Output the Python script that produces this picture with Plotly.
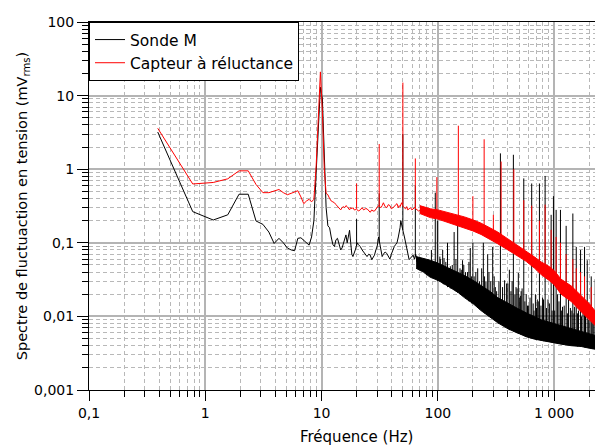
import plotly.graph_objects as go

# ---------------- data ----------------
# Sonde M (black): low-frequency curve
sonde_f = [0.39, 0.78, 1.17, 1.56, 1.95, 2.34, 2.73, 3.13, 3.52, 3.91, 4.30, 4.69, 5.08, 5.47,
           5.86, 6.25, 6.64, 7.03, 7.42, 7.81, 8.20, 8.59, 8.98, 9.38, 9.77, 10.16, 10.55,
           10.94, 11.33, 11.72, 12.1, 12.5, 12.9, 13.3, 13.7, 14.1, 14.6, 15.0, 15.4, 15.8,
           16.2, 16.6, 17.0, 17.4, 17.8, 18.2, 18.6, 19.1, 19.5, 19.9, 20.3, 20.7, 21.5,
           22.3, 23.0, 23.8, 24.6, 25.4, 26.2, 27.0, 27.7, 28.5, 29.3, 30.1, 30.9, 31.6,
           32.4, 33.2, 34.0, 35.2, 36.3, 37.5, 38.7, 39.8, 41.0, 42.2, 43.4, 44.5, 45.7,
           46.5, 47.3, 48.0, 48.8, 50.4, 51.6, 52.7, 53.9, 55.1, 56.6, 58.2, 59.8, 61.3,
           62.9, 64.5, 66.0]
sonde_v = [3.2, 0.265, 0.204, 0.24, 0.457, 0.457, 0.198, 0.178, 0.14, 0.098, 0.115, 0.10,
           0.085, 0.080, 0.078, 0.115, 0.117, 0.108, 0.098, 0.093, 0.12, 0.20, 0.9, 4.0,
           13.0, 9.0, 1.2, 0.30, 0.17, 0.16, 0.12, 0.095, 0.089, 0.11, 0.115, 0.10, 0.08,
           0.085, 0.10, 0.118, 0.128, 0.10, 0.12, 0.148, 0.10, 0.07, 0.065, 0.072, 0.08,
           0.09, 0.10, 0.095, 0.089, 0.08, 0.075, 0.07, 0.065, 0.07, 0.068, 0.059, 0.063,
           0.068, 0.08, 0.09, 0.12, 0.10, 0.08, 0.065, 0.07, 0.075, 0.072, 0.065, 0.06,
           0.07, 0.08, 0.089, 0.095, 0.10, 0.12, 0.136, 0.16, 0.2, 0.17, 0.14, 0.12, 0.10,
           0.08, 0.07, 0.059, 0.062, 0.065, 0.068, 0.06, 0.07, 0.055]

# Sonde M: dense noise band (lower / upper envelope)
sonde_band_f = [65, 75, 86, 100, 121, 150, 169, 200, 235, 280, 327, 400, 486, 574, 680, 773,
                900, 1000, 1148, 1400, 1710, 2000, 2450]
sonde_band_lo = [0.045, 0.04, 0.034, 0.031, 0.026, 0.021, 0.018, 0.015, 0.012, 0.0098,
                 0.0082, 0.0068, 0.0059, 0.0053, 0.0049, 0.0047, 0.0045, 0.0044, 0.0042,
                 0.0040, 0.0039, 0.0037, 0.0035]
sonde_band_hi = [0.065, 0.062, 0.058, 0.053, 0.046, 0.04, 0.036, 0.031, 0.026, 0.022, 0.018,
                 0.015, 0.0128, 0.0112, 0.0098, 0.009, 0.0084, 0.008, 0.0075, 0.0069,
                 0.0063, 0.0058, 0.0053]

# Sonde M: spikes (frequency, top, base)
sonde_spk_f = [20.0, 31.3, 50.0, 64.0, 88, 95, 99, 104, 110, 113, 121, 128, 138, 148, 159,
               163, 173, 190, 200, 205, 220, 246, 259, 268, 275, 296, 312, 345, 375, 390,
               412, 446, 470, 492, 515, 530, 548, 590, 641, 671, 716, 747, 795, 836, 885,
               942, 986, 1010, 1040, 1070, 1133, 1180, 1268, 1330, 1448, 1500, 1549, 1590,
               1687, 1770, 1825, 1925, 2030, 2083, 2160, 2255, 2330, 2455]
sonde_spk_top = [0.21, 0.47, 3.0, 0.6, 0.08, 0.48, 0.2, 0.065, 0.08, 0.062, 0.1, 0.048,
                 0.14, 0.19, 0.043, 0.058, 0.04, 0.085, 0.1, 0.035, 0.045, 0.1, 0.03, 0.07,
                 0.04, 0.088, 0.025, 1.64, 0.031, 0.028, 0.043, 1.57, 0.025, 0.039, 0.019,
                 0.024, 0.75, 0.014, 0.64, 0.012, 0.017, 0.64, 0.018, 0.81, 0.017, 0.24,
                 0.43, 0.012, 0.28, 0.02, 0.28, 0.0135, 0.17, 0.0185, 0.25, 0.0135, 0.088,
                 0.011, 0.08, 0.011, 0.088, 0.058, 0.009, 0.035, 0.008, 0.032, 0.009, 0.029]
sonde_spk_base = [0.09, 0.1, 0.15, 0.065, 0.035, 0.032, 0.03, 0.03, 0.028, 0.027, 0.025,
                  0.024, 0.023, 0.021, 0.02, 0.019, 0.018, 0.016, 0.015, 0.015, 0.013,
                  0.012, 0.011, 0.011, 0.01, 0.0095, 0.009, 0.0085, 0.0075, 0.0072, 0.0065,
                  0.0062, 0.006, 0.0058, 0.0057, 0.0056, 0.0055, 0.0053, 0.0051, 0.005,
                  0.0049, 0.0048, 0.0047, 0.0046, 0.0045, 0.0045, 0.0044, 0.0044, 0.0044,
                  0.0043, 0.0043, 0.0042, 0.0041, 0.0041, 0.004, 0.004, 0.004, 0.0039,
                  0.0039, 0.0039, 0.0038, 0.0038, 0.0037, 0.0037, 0.0036, 0.0036, 0.0036,
                  0.0035]

# Sonde M: short "grass" peaks above the noise band (estimated)
sonde_grass_f = [105, 117, 133, 143, 155, 167, 180, 185, 195, 212, 228, 238, 252, 285, 305,
                 320, 335, 360, 400, 425, 435, 460, 480, 505, 520, 560, 575, 600, 620, 660,
                 690, 705, 730, 770, 810, 860, 910, 960, 1100, 1160, 1220, 1300, 1380, 1420,
                 1480, 1620, 1720, 1860, 1980, 2120, 2200, 2400]
sonde_grass_top = [0.06, 0.055, 0.05, 0.06, 0.045, 0.05, 0.04, 0.055, 0.035, 0.04, 0.03,
                   0.045, 0.035, 0.03, 0.035, 0.022, 0.03, 0.025, 0.028, 0.022, 0.03, 0.02,
                   0.024, 0.018, 0.022, 0.016, 0.02, 0.014, 0.018, 0.015, 0.02, 0.013,
                   0.016, 0.014, 0.017, 0.013, 0.015, 0.012, 0.016, 0.012, 0.014, 0.011,
                   0.013, 0.012, 0.011, 0.012, 0.01, 0.011, 0.009, 0.01, 0.009, 0.008]
sonde_grass_base = [0.03, 0.027, 0.024, 0.022, 0.02, 0.019, 0.017, 0.016, 0.015, 0.014,
                    0.0125, 0.012, 0.011, 0.0098, 0.009, 0.0085, 0.008, 0.0075, 0.0068,
                    0.0065, 0.0064, 0.0061, 0.0059, 0.0058, 0.0057, 0.0054, 0.0053, 0.0052,
                    0.0051, 0.005, 0.0049, 0.0049, 0.0048, 0.0047, 0.0046, 0.0046, 0.0045,
                    0.0044, 0.0043, 0.0042, 0.0042, 0.0041, 0.0041, 0.004, 0.004, 0.004,
                    0.0039, 0.0038, 0.0038, 0.0037, 0.0036, 0.0035]

# Capteur à réluctance (red): low-frequency curve
capteur_f = [0.39, 0.78, 1.17, 1.56, 1.95, 2.34, 2.73, 3.13, 3.52, 3.91, 4.30, 4.69, 5.08,
             5.47, 5.86, 6.25, 6.64, 7.03, 7.42, 7.81, 8.20, 8.59, 8.98, 9.38, 9.77, 10.16,
             10.55, 10.94, 11.33, 11.72, 12.1, 12.5, 12.9, 13.3, 13.7, 14.1, 14.6, 15.0,
             15.4, 15.8, 16.2, 16.6, 17.0, 17.4, 17.8, 18.2, 18.6, 19.1, 19.5, 19.9, 20.3,
             20.7, 21.5, 22.3, 23.0, 23.8, 24.6, 25.4, 26.2, 27.0, 27.7, 28.5, 29.3, 30.1,
             30.9, 31.6, 32.4, 33.2, 34.0, 35.2, 36.3, 37.5, 38.7, 39.8, 41.0, 42.2, 43.4,
             44.5, 45.7, 46.5, 47.3, 48.0, 48.8, 50.4, 51.6, 52.7, 53.9, 55.1, 56.6, 58.2,
             59.8, 61.3, 62.9, 64.5, 66.0, 68.4, 70.3, 72.3, 75.0, 78.1, 82.0, 86.0]
capteur_v = [3.6, 0.63, 0.66, 0.74, 0.95, 0.95, 0.62, 0.48, 0.48, 0.50, 0.53, 0.48, 0.45,
             0.47, 0.49, 0.51, 0.42, 0.34, 0.37, 0.39, 0.36, 0.39, 1.1, 7.0, 21.0, 6.0, 1.0,
             0.47, 0.45, 0.40, 0.37, 0.36, 0.35, 0.33, 0.31, 0.29, 0.28, 0.30, 0.31, 0.30,
             0.32, 0.31, 0.29, 0.28, 0.30, 0.29, 0.30, 0.28, 0.28, 0.29, 0.28, 0.27, 0.28,
             0.30, 0.28, 0.29, 0.29, 0.27, 0.26, 0.28, 0.27, 0.27, 0.29, 0.30, 0.32, 0.31,
             0.30, 0.32, 0.35, 0.31, 0.30, 0.33, 0.32, 0.29, 0.30, 0.31, 0.33, 0.34, 0.30,
             0.32, 0.31, 0.33, 0.35, 0.31, 0.30, 0.29, 0.31, 0.28, 0.29, 0.30, 0.28, 0.29,
             0.30, 0.29, 0.28, 0.27, 0.28, 0.27, 0.29, 0.28, 0.27, 0.26]

# Capteur: dense noise band
capteur_band_f = [70, 86, 100, 121, 150, 169, 200, 235, 280, 327, 400, 486, 574, 680, 773,
                  900, 1000, 1148, 1400, 1710, 2000, 2450]
capteur_band_lo = [0.25, 0.22, 0.21, 0.19, 0.17, 0.16, 0.145, 0.13, 0.112, 0.097, 0.08,
                   0.066, 0.056, 0.045, 0.037, 0.031, 0.027, 0.020, 0.016, 0.0115, 0.009,
                   0.0066]
capteur_band_hi = [0.32, 0.29, 0.28, 0.26, 0.24, 0.225, 0.205, 0.185, 0.16, 0.14, 0.113,
                   0.092, 0.078, 0.064, 0.055, 0.048, 0.042, 0.032, 0.026, 0.019, 0.015,
                   0.010]

# Capteur: spikes
capteur_spk_f = [20.0, 31.3, 50.0, 64.0, 98, 150, 200, 250, 300, 350, 450, 548, 641, 747,
                 836, 942, 1040, 1133, 1268, 1448, 1549, 1687, 1825, 2083]
capteur_spk_top = [0.64, 2.2, 15.0, 1.4, 0.78, 3.9, 0.43, 2.55, 0.24, 1.27, 1.0, 0.38, 0.32,
                   0.2, 0.33, 0.15, 0.12, 0.1, 0.07, 0.06, 0.045, 0.04, 0.035, 0.025]
capteur_spk_base = [0.29, 0.31, 0.33, 0.29, 0.26, 0.22, 0.18, 0.15, 0.13, 0.11, 0.09,
                    0.075, 0.065, 0.055, 0.048, 0.042, 0.037, 0.032, 0.027, 0.022, 0.02,
                    0.018, 0.016, 0.013]

x_tickvals = [0.1, 1, 10, 100, 1000]
x_ticktext = ["0,1", "1", "10", "100", "1 000"]
y_tickvals = [0.001, 0.01, 0.1, 1, 10, 100]
y_ticktext = ["0,001", "0,01", "0,1", "1", "10", "100"]


def segments(fs, tops, bases):
    xs, ys = [], []
    for f, t, b in zip(fs, tops, bases):
        xs += [f, f, None]
        ys += [b, t, None]
    return xs, ys


FONT = "DejaVu Sans"
BLACK = "#000000"
RED = "#ff0000"

fig = go.Figure()

# ---- Sonde M ----
fig.add_trace(go.Scatter(x=sonde_f, y=sonde_v, mode="lines", name="Sonde M",
                         line=dict(color=BLACK, width=1)))
fig.add_trace(go.Scatter(x=sonde_band_f, y=sonde_band_lo, mode="lines", showlegend=False,
                         hoverinfo="skip", line=dict(color=BLACK, width=1)))
fig.add_trace(go.Scatter(x=sonde_band_f, y=sonde_band_hi, mode="lines", showlegend=False,
                         hoverinfo="skip", fill="tonexty", fillcolor=BLACK,
                         line=dict(color=BLACK, width=1)))
gx, gy = segments(sonde_grass_f, sonde_grass_top, sonde_grass_base)
fig.add_trace(go.Scatter(x=gx, y=gy, mode="lines", showlegend=False, hoverinfo="skip",
                         connectgaps=False, line=dict(color=BLACK, width=1)))
sx, sy = segments(sonde_spk_f, sonde_spk_top, sonde_spk_base)
fig.add_trace(go.Scatter(x=sx, y=sy, mode="lines", showlegend=False, hoverinfo="skip",
                         connectgaps=False, line=dict(color=BLACK, width=1)))

# ---- Capteur à réluctance ----
fig.add_trace(go.Scatter(x=capteur_f, y=capteur_v, mode="lines", name="Capteur à réluctance",
                         line=dict(color=RED, width=1)))
fig.add_trace(go.Scatter(x=capteur_band_f, y=capteur_band_lo, mode="lines", showlegend=False,
                         hoverinfo="skip", line=dict(color=RED, width=1)))
fig.add_trace(go.Scatter(x=capteur_band_f, y=capteur_band_hi, mode="lines", showlegend=False,
                         hoverinfo="skip", fill="tonexty", fillcolor=RED,
                         line=dict(color=RED, width=1)))
cx, cy = segments(capteur_spk_f, capteur_spk_top, capteur_spk_base)
fig.add_trace(go.Scatter(x=cx, y=cy, mode="lines", showlegend=False, hoverinfo="skip",
                         connectgaps=False, line=dict(color=RED, width=1)))

grid_major = "#b4b4b4"
grid_minor = "#b8b8b8"

# the page body has an 8px offset: the figure is sized so the plot lands where the reference has it
fig.update_layout(
    width=595, height=438,
    margin=dict(l=81, r=0, t=14, b=56),
    paper_bgcolor="white", plot_bgcolor="white",
    font=dict(family=FONT, size=14, color="black"),
    showlegend=True,
    legend=dict(x=0, y=1, xanchor="left", yanchor="top", bgcolor="white",
                bordercolor="black", borderwidth=1, font=dict(size=15.5, family=FONT),
                tracegroupgap=0, itemwidth=30, traceorder="normal"),
    xaxis=dict(type="log", range=[-1, 3.42], tickvals=x_tickvals, ticktext=x_ticktext,
               showline=True, linecolor="black", linewidth=1, mirror=True,
               ticks="outside", ticklen=10, tickcolor="black",
               showgrid=True, gridcolor=grid_major, gridwidth=1.5, zeroline=False,
               tickfont=dict(size=14),
               minor=dict(dtick="D1", ticks="outside", ticklen=6, tickcolor="black",
                          showgrid=True, gridcolor=grid_minor, griddash="4px,3px",
                          gridwidth=1)),
    yaxis=dict(type="log", range=[-3, 2], tickvals=y_tickvals, ticktext=y_ticktext,
               showline=True, linecolor="black", linewidth=1, mirror=False,
               ticks="outside", ticklen=11, tickcolor="black",
               showgrid=True, gridcolor=grid_major, gridwidth=1.5, zeroline=False,
               tickfont=dict(size=14),
               title=dict(text="Spectre de fluctuaction en tension (mV<sub>rms</sub>)",
                          font=dict(size=14.5), standoff=3),
               minor=dict(dtick="D1", ticks="outside", ticklen=6, tickcolor="black",
                          showgrid=True, gridcolor=grid_minor, griddash="4px,3px",
                          gridwidth=1)),
    annotations=[dict(text="Fréquence (Hz)", xref="paper", yref="paper",
                      x=0.521, y=-0.128, xanchor="center", yanchor="middle",
                      showarrow=False, font=dict(size=15, family=FONT))],
)

fig.write_html("out.html")
